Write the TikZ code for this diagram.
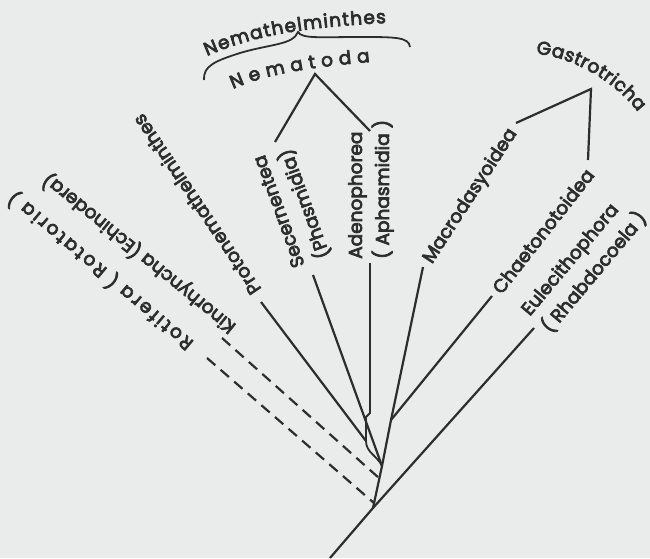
\documentclass[tikz,border=0pt]{standalone}
\usepackage{fontspec}
\setmainfont{Poppins}[FakeBold=4]
\usetikzlibrary{decorations.text}
\definecolor{ink}{RGB}{45,45,45}
\definecolor{paper}{RGB}{233,236,234}
\newcommand\lblfont{\fontsize{18.5}{27}\selectfont}
\begin{document}
\begin{tikzpicture}[x=1pt,y=1pt,
  branch/.style={line width=2.2pt,draw=ink},
  broken/.style={dash pattern=on 11pt off 7pt},
  lbl/.style={font=\lblfont,text=ink,inner sep=0pt,anchor=west}]
\fill[paper] (0,0) rectangle (650,558);
\useasboundingbox (0,0) rectangle (650,558);

\coordinate (base) at (330,0);
\coordinate (j1) at (373,50);
\coordinate (j2) at (382,92);
\coordinate (j3) at (391,138);
\coordinate (eulEnd) at (534,230);
\coordinate (macEnd) at (423,291);
\coordinate (chaEnd) at (492,262);
\coordinate (secEnd) at (313,283);
\coordinate (adeEnd) at (370,295);
\coordinate (adeKnee) at (370,145);
\coordinate (proEnd) at (261,256);
\coordinate (proFoot) at (366,117);
\coordinate (kinEnd) at (222,220);
\coordinate (kinFoot) at (379,80);
\coordinate (rotEnd) at (207,200);
\coordinate (rotFoot) at (374,55);
\coordinate (nemApex) at (315,484);
\coordinate (nemLeft) at (275,416);
\coordinate (nemRight) at (370,427);
\coordinate (gasApex) at (591,469);
\coordinate (gasLeft) at (516,435);
\coordinate (gasRight) at (588,398);

\draw[branch] (base) -- (j1) -- (eulEnd);
\draw[branch] (j1) -- (j2) -- (j3) -- (macEnd);
\draw[branch] (j3) -- (chaEnd);
\draw[branch] (j2) -- (secEnd);
\draw[branch,line width=1.8pt] (adeEnd) -- (adeKnee) -- ++(-4,-4) -- ++(0,-24) to[out=-90,in=115] (j2);
\draw[branch] (proEnd) -- (proFoot);
\draw[branch,broken] (kinEnd) -- (kinFoot);
\draw[branch,broken] (rotEnd) -- (rotFoot);
\draw[branch] (nemLeft) -- (nemApex) -- (nemRight);
\draw[branch] (gasLeft) -- (gasApex) -- (gasRight);

\draw[branch,line width=1.8pt] (204,478) .. controls (203,492) and (215,497) .. (240,505)
  .. controls (270,514) and (293,513) .. (298,526)
  .. controls (302,519) and (320,521) .. (360,521)
  .. controls (395,521) and (409,521) .. (410,511);

\path[decorate,decoration={text along path,text align=fit to path,
  text={|\lblfont\color{ink}|Nemathelminthes}}]
  (207,502) .. controls (240,516) and (280,530) .. (386,535);
\path[decorate,decoration={text along path,text align=fit to path,
  text={|\lblfont\color{ink}|Nematoda}}]
  (233,469) .. controls (262,482) and (300,490) .. (370,496);
\path[decorate,decoration={text along path,text align=fit to path,
  text={|\lblfont\color{ink}|Gastrotricha}}]
  (536,504) .. controls (568,502) and (612,480) .. (638,446);

\node[lbl,rotate=57] (mac) at (428,296) {Macrodasyoidea};
\node[lbl,rotate=52] (cha) at (496,267) {Chaetonotoidea};
\node[lbl,rotate=50,align=left] (eul) at (536,236) {Eulecithophora\\( Rhabdocoela )};
\node[lbl,rotate=90,align=left] (ade) at (371,299) {Adenophorea\\( Aphasmidia )};
\node[lbl,rotate=110,align=left] (sec) at (313,296) {Secernentea\\(Phasmidia)};
\node[lbl,rotate=124] (pro) at (256,265) {Protonemathelminthes};
\node[lbl,rotate=141] (kin) at (233,228) {Kinorhyncha (Echinodera)};
\node[lbl,rotate=140,font=\lblfont\addfontfeature{LetterSpace=14}] (rot) at (190,211) {Rotifera ( Rotatoria )};
\end{tikzpicture}
\end{document}
